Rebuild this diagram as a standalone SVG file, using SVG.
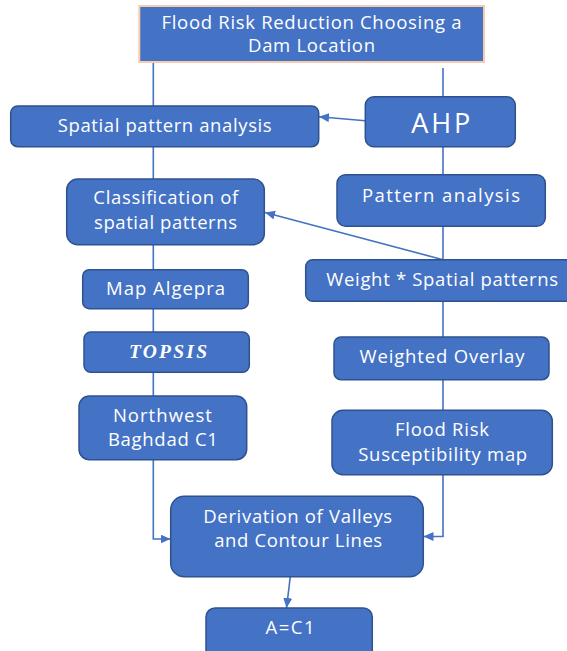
<svg xmlns="http://www.w3.org/2000/svg" width="567" height="651" viewBox="0 0 567 651">
  <style>
    .box { fill: #4472C4; stroke: #2F528F; stroke-width: 1.5; }
    .title { fill: #4472C4; stroke: #F8CBAD; stroke-width: 2; }
    .t { font-family: "Open Sans", "Liberation Sans", sans-serif; font-size: 18.5px; fill: #FFFFFF; text-anchor: middle; }
    .big { font-size: 27px; }
    .serif { font-family: "Liberation Serif", "Times New Roman", serif; font-weight: bold; font-style: italic; font-size: 19.5px; }
    .c { fill: none; stroke: #4472C4; stroke-width: 1.6; }
  </style>
  <defs>
    <marker id="arr" markerUnits="userSpaceOnUse" markerWidth="11" markerHeight="10" refX="10" refY="4.5" orient="auto">
      <path d="M0,0 L10,4.5 L0,9 z" fill="#4472C4"/>
    </marker>
  </defs>

  <g id="connectors">
    <line class="c" x1="153.3" y1="62" x2="153.3" y2="106"/>
    <line class="c" x1="153.3" y1="146.7" x2="153.3" y2="179"/>
    <line class="c" x1="153.3" y1="244.7" x2="153.3" y2="269.7"/>
    <line class="c" x1="153.3" y1="308.7" x2="153.3" y2="332"/>
    <line class="c" x1="153.3" y1="372.3" x2="153.3" y2="396"/>
    <path class="c" d="M153.3,459.7 V539 H170.5" marker-end="url(#arr)"/>
    <line class="c" x1="443" y1="68" x2="443" y2="96.7"/>
    <line class="c" x1="443" y1="146.7" x2="443" y2="174.7"/>
    <line class="c" x1="443" y1="226.3" x2="443" y2="259.7"/>
    <line class="c" x1="443" y1="301.3" x2="443" y2="337"/>
    <line class="c" x1="443" y1="379.7" x2="443" y2="410.3"/>
    <path class="c" d="M443,474.7 V536.5 H423.5" marker-end="url(#arr)"/>
    <line class="c" x1="365.3" y1="120.7" x2="319" y2="116.8" marker-end="url(#arr)"/>
    <line class="c" x1="443" y1="259.7" x2="265" y2="212.5" marker-end="url(#arr)"/>
    <line class="c" x1="290.3" y1="576.7" x2="286.5" y2="608" marker-end="url(#arr)"/>
  </g>

  <g id="title">
    <rect class="title" x="139.3" y="6" width="344.7" height="56"/>
    <text class="t" x="311.5" y="29.3" textLength="300" lengthAdjust="spacing">Flood Risk Reduction Choosing a</text>
    <text class="t" x="311.5" y="52.3" textLength="127" lengthAdjust="spacing">Dam Location</text>
  </g>

  <g id="spatial">
    <rect class="box" x="10.7" y="106" width="308" height="40.7" rx="7"/>
    <text class="t" x="164.7" y="131.7" textLength="214" lengthAdjust="spacing">Spatial pattern analysis</text>
  </g>

  <g id="ahp">
    <rect class="box" x="365.3" y="96.7" width="150" height="50" rx="8.5"/>
    <text class="t big" x="440.7" y="132.7" textLength="59" lengthAdjust="spacing">AHP</text>
  </g>

  <g id="classification">
    <rect class="box" x="66.7" y="179" width="197.6" height="65.7" rx="11"/>
    <text class="t" x="165.8" y="204.3" textLength="145" lengthAdjust="spacing">Classification of</text>
    <text class="t" x="165.5" y="228.7" textLength="143" lengthAdjust="spacing">spatial patterns</text>
  </g>

  <g id="pattern">
    <rect class="box" x="337" y="174.7" width="208.3" height="51.6" rx="8.5"/>
    <text class="t" x="441" y="201.7" textLength="158" lengthAdjust="spacing">Pattern analysis</text>
  </g>

  <g id="mapalgepra">
    <rect class="box" x="82.7" y="269.7" width="165.6" height="39" rx="6.5"/>
    <text class="t" x="165.5" y="295.3" textLength="119" lengthAdjust="spacing">Map Algepra</text>
  </g>

  <g id="weight">
    <rect class="box" x="305.7" y="259.7" width="275" height="41.6" rx="7"/>
    <text class="t" x="442.2" y="286.3" textLength="232" lengthAdjust="spacing">Weight * Spatial patterns</text>
  </g>

  <g id="topsis">
    <rect class="box" x="84" y="332" width="165.3" height="40.3" rx="6.7"/>
    <text class="t serif" x="168" y="357.7" textLength="78" lengthAdjust="spacing">TOPSIS</text>
  </g>

  <g id="overlay">
    <rect class="box" x="334" y="337" width="215" height="42.7" rx="7"/>
    <text class="t" x="442" y="363" textLength="165" lengthAdjust="spacing">Weighted Overlay</text>
  </g>

  <g id="northwest">
    <rect class="box" x="79" y="396" width="167.7" height="63.7" rx="10.5"/>
    <text class="t" x="162.4" y="422" textLength="99" lengthAdjust="spacing">Northwest</text>
    <text class="t" x="162.9" y="446.3" textLength="110" lengthAdjust="spacing">Baghdad C1</text>
  </g>

  <g id="floodrisk">
    <rect class="box" x="332" y="410.3" width="220.3" height="64.4" rx="10.7"/>
    <text class="t" x="442" y="436.3" textLength="94" lengthAdjust="spacing">Flood Risk</text>
    <text class="t" x="442.7" y="460.7" textLength="169" lengthAdjust="spacing">Susceptibility map</text>
  </g>

  <g id="derivation">
    <rect class="box" x="170.7" y="496.3" width="252.6" height="80.4" rx="13.5"/>
    <text class="t" x="297.7" y="523.3" textLength="189" lengthAdjust="spacing">Derivation of Valleys</text>
    <text class="t" x="298.2" y="547.3" textLength="168" lengthAdjust="spacing">and Contour Lines</text>
  </g>

  <g id="ac1">
    <rect class="box" x="206" y="608" width="166.3" height="55" rx="9"/>
    <text class="t" x="290" y="634" textLength="49" lengthAdjust="spacing">A=C1</text>
  </g>
</svg>
